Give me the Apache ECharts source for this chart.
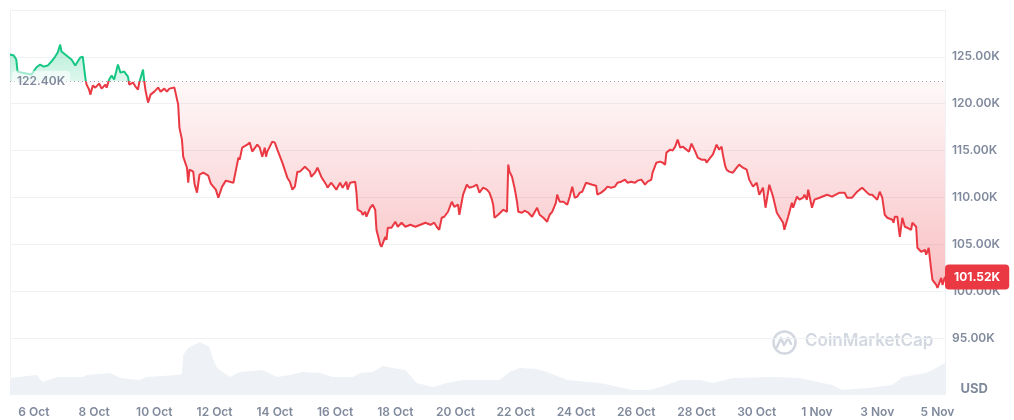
<!DOCTYPE html>
<html><head><meta charset="utf-8">
<script src="https://cdn.jsdelivr.net/npm/echarts@6/dist/echarts.min.js"></script>
<style>html,body{margin:0;padding:0;background:#fff}#c{width:1014px;height:420px}</style>
</head><body><div id="c"></div>
<script>
// Reference price (K USD) at the start of the period
const BASE = 122.4;
// Hours since 5 Oct 00:00 UTC
const hours = [5,8,10,11,14,18,22,26,29,32,35,38,41,43,45,46,49,52,54,57,59,61,63,65,66,68,69,71,73,76,78,81,82,84,86,88,89,91,93,96,99,100,103,105,107,108,111,112,113,115,117,120,123,125,128,130,132,136,137,139,140,142,143,146,147,148,151,152,154,156,159,163,165,167,169,171,174,177,180,183,187,188,190,194,196,198,202,204,206,208,209,210,214,216,218,222,226,228,230,232,234,236,240,244,245,248,250,253,257,258,261,265,268,270,273,274,276,280,281,282,285,286,288,289,292,294,296,297,300,301,304,305,306,309,312,314,317,320,324,328,332,336,340,343,345,347,349,351,354,357,359,362,363,366,369,371,374,377,379,382,385,387,389,390,391,394,395,398,399,401,402,403,405,406,407,409,410,413,415,418,421,422,425,426,427,430,433,435,437,440,441,443,446,449,451,453,455,457,459,461,464,465,469,472,473,476,479,481,484,487,489,492,495,497,500,503,505,508,511,513,516,517,520,523,525,527,528,531,533,535,537,539,541,544,546,548,551,553,556,559,560,563,565,568,570,572,573,575,576,578,581,584,586,589,592,594,597,600,602,605,607,610,613,616,618,621,622,625,628,629,632,634,637,638,640,641,644,646,650,656,660,666,670,672,676,680,682,684,688,690,692,696,698,700,702,704,708,709,710,712,714,716,718,720,723,724,727,728,731,734,735,737,739,740,743,744,747,748,750];
// Price in thousands of USD
const prices = [125.25,125.14,124.71,123.43,123.32,123.22,123.11,123.86,124.18,123.96,124.07,124.5,125.03,125.46,126.31,125.57,125.25,124.93,124.71,124.07,124.5,124.93,125.03,122.79,122.04,121.51,120.97,121.93,121.72,122.15,121.61,122.04,121.72,122.58,123.0,122.58,122.68,124.18,123.32,123.43,122.9,122.04,122.26,121.83,121.51,122.26,123.64,122.36,121.4,120.12,120.97,121.29,121.72,121.29,121.61,121.29,121.61,121.72,121.51,119.9,117.45,116.17,114.35,113.17,111.57,112.96,112.75,111.47,110.51,112.43,112.64,112.32,111.47,111.15,110.83,109.97,111.15,111.79,111.68,111.57,114.25,114.03,115.31,115.63,115.85,114.89,115.63,115.31,114.35,115.31,114.35,114.89,115.95,115.85,115.1,113.71,112.11,111.68,110.83,111.15,112.75,112.75,113.28,112.75,112.21,112.64,113.17,112.21,111.36,111.04,111.57,110.83,111.57,111.04,111.68,110.83,111.57,111.68,110.61,108.69,108.47,108.15,108.47,107.94,108.9,109.22,108.69,106.55,104.95,104.73,105.8,105.48,106.76,106.76,107.41,106.87,107.3,106.87,107.08,106.87,107.08,107.3,107.08,107.3,106.87,106.55,107.83,107.94,108.47,109.54,109.0,109.22,108.15,110.29,111.36,111.04,111.15,111.36,110.51,111.04,110.83,110.51,109.76,109.22,107.83,108.15,107.94,108.69,108.9,108.47,113.5,112.75,112.21,112.11,111.04,109.54,108.47,108.37,108.58,108.37,107.94,107.83,108.9,108.69,108.15,107.83,107.41,108.15,108.47,109.44,110.29,109.54,109.54,109.22,110.08,111.15,109.97,110.08,110.51,110.61,111.57,111.36,111.36,111.25,110.29,110.51,110.83,111.15,111.04,111.15,111.57,111.68,111.9,111.57,111.68,111.57,111.79,111.9,111.36,111.68,111.9,112.64,113.71,113.82,113.71,113.5,114.78,115.1,115.0,115.42,116.17,115.31,115.42,115.1,114.89,115.74,114.89,114.25,114.03,114.03,113.71,114.25,114.57,115.63,115.1,115.42,114.57,113.28,112.96,112.75,112.64,113.17,113.5,113.17,112.96,111.9,111.15,111.57,110.29,111.04,108.9,111.36,110.08,108.37,107.94,107.3,106.55,107.94,109.44,108.9,110.08,109.76,109.97,110.29,109.76,110.83,108.9,109.76,109.97,110.29,110.08,110.51,110.51,109.97,109.97,110.61,110.83,111.04,110.51,110.29,110.29,109.76,110.61,109.97,108.15,107.83,107.62,107.3,107.94,107.94,105.8,107.83,106.87,106.76,106.55,107.3,106.87,104.63,104.2,104.41,103.88,104.63,102.28,101.21,100.67,100.35,101.42,100.67,101.52];
// Volume (relative units)
const volHours = [5,26,31,43,63,66,85,93,108,114,138,142,143,147,156,164,167,170,180,188,206,218,228,238,252,262,278,284,294,302,310,320,329,342,353,366,395,403,411,425,435,449,475,501,515,528,539,555,565,581,613,634,660,668,688,708,716,735,743,750];
const volumes = [34,40,26,36,36,40,44,34,30,36,40,42,80,94,106,96,70,54,36,46,50,36,40,46,44,36,36,44,46,58,54,50,24,16,24,30,30,46,54,52,44,30,24,10,10,20,30,30,24,34,36,34,20,10,14,20,36,44,54,64];
// X axis tick labels (every two days from 6 Oct)
const tickLabels = ['6 Oct','8 Oct','10 Oct','12 Oct','14 Oct','16 Oct','18 Oct','20 Oct','22 Oct','24 Oct','26 Oct','28 Oct','30 Oct','1 Nov','3 Nov','5 Nov'];

const X_MIN = hours[0], X_MAX = hours[hours.length - 1];
const tickHours = tickLabels.map((_, i) => 24 + 48 * i);
const priceData = hours.map((h, i) => [h, prices[i]]);
const volData = volHours.map((h, i) => [h, volumes[i]]);
const last = prices.length - 1;

const GREEN = '#16c784', RED = '#ea3943', AX = '#808a9d', GRID = '#eff2f5';
const FONT = 'Inter, "Noto Sans", sans-serif';

const chart = echarts.init(document.getElementById('c'), null, {renderer: 'canvas'});

const option = {
  animation: false,
  backgroundColor: '#fff',
  grid: [
    {left: 10, right: 69, top: 10, height: 328},
    {left: 10, right: 69, top: 10, bottom: 25}
  ],
  xAxis: [
    {type: 'value', gridIndex: 0, min: X_MIN, max: X_MAX, show: false},
    {type: 'value', gridIndex: 1, min: X_MIN, max: X_MAX,
     axisLine: {show: false}, axisTick: {show: false}, splitLine: {show: false},
     axisLabel: {customValues: tickHours, formatter: v => { const i = tickHours.indexOf(Math.round(v)); return i >= 0 ? tickLabels[i] : ''; },
       color: AX, fontFamily: FONT, fontSize: 12, fontWeight: 600, margin: 11}}
  ],
  yAxis: [
    {type: 'value', gridIndex: 0, position: 'right', min: 95, max: 130, interval: 5,
     axisLine: {show: false}, axisTick: {show: false},
     splitLine: {lineStyle: {color: GRID, width: 1}},
     axisLabel: {formatter: v => v.toFixed(2) + 'K', showMaxLabel: false, margin: 7,
       color: AX, fontFamily: FONT, fontSize: 12, fontWeight: 600}},
    {type: 'value', gridIndex: 1, position: 'right', min: 0, max: 770,
     axisLine: {show: true, lineStyle: {color: GRID}}, axisTick: {show: false},
     axisLabel: {show: false}, splitLine: {show: false}},
    {type: 'value', gridIndex: 1, position: 'left', min: 0, max: 770,
     axisLine: {show: true, lineStyle: {color: GRID}}, axisTick: {show: false},
     axisLabel: {show: false}, splitLine: {show: false}}
  ],
  graphic: [
    {type: 'text', right: 26, bottom: 24, style: {text: 'USD', fill: AX, font: '700 13px ' + FONT}},
    {type: 'group', left: 771, top: 329, children: [
      {type: 'circle', shape: {cx: 12.5, cy: 12.5, r: 11}, style: {fill: 'none', stroke: '#d3d8e0', lineWidth: 2.5}},
      {type: 'polyline', shape: {points: [[5, 17], [9, 8], [12, 15], [16, 8], [19, 14]]}, style: {fill: 'none', stroke: '#d3d8e0', lineWidth: 2.5, lineJoin: 'round', lineCap: 'round'}}
    ]},
    {type: 'text', left: 805, top: 332, style: {text: 'CoinMarketCap', fill: '#d3d8e0', font: '600 17px ' + FONT}}
  ],
  series: [
    {id: 'vol', type: 'line', xAxisIndex: 1, yAxisIndex: 1, data: volData, symbol: 'none', silent: true,
     lineStyle: {width: 0}, areaStyle: {color: '#eef1f5', opacity: 1}, z: 1},
    {id: 'price', type: 'line', xAxisIndex: 0, yAxisIndex: 0, data: priceData, symbol: 'none', z: 3,
     lineStyle: {width: 2, color: RED}, itemStyle: {color: RED},
     areaStyle: {origin: BASE, color: 'rgba(234,57,67,0.1)', opacity: 1},
     markLine: {silent: true, symbol: 'none', label: {show: false},
       lineStyle: {type: [1, 3], color: '#97a0b1', width: 1},
       data: [{yAxis: BASE}]},
     markPoint: {silent: true, symbol: 'rect', symbolSize: 0,
       data: [
         {coord: [X_MIN, BASE], label: {show: true, position: 'right', distance: 2,
           formatter: BASE.toFixed(2) + 'K', color: AX, fontFamily: FONT, fontSize: 12, fontWeight: 600,
           backgroundColor: 'rgba(255,255,255,0.6)', padding: [5, 5, 4, 5], borderRadius: 4}},
         {coord: [hours[last], prices[last]], label: {show: true, position: 'right', distance: 0,
           formatter: prices[last].toFixed(2) + 'K', color: '#fff', fontFamily: FONT, fontSize: 12, fontWeight: 700,
           backgroundColor: RED, padding: [7, 9, 6, 9], borderRadius: 4}}
       ]}}
  ]
};
chart.setOption(option);

const yTop = chart.convertToPixel({yAxisIndex: 0}, Math.max(...prices));
const yBase = chart.convertToPixel({yAxisIndex: 0}, BASE);
const yBot = chart.convertToPixel({yAxisIndex: 0}, Math.min(...prices));
const b = (yBase - yTop) / (yBot - yTop);
const lineGrad = {type: 'linear', x: 0, y: yTop, x2: 0, y2: yBot, global: true,
  colorStops: [{offset: 0, color: GREEN}, {offset: b, color: GREEN}, {offset: b, color: RED}, {offset: 1, color: RED}]};
const areaGrad = {type: 'linear', x: 0, y: yTop, x2: 0, y2: yBot, global: true,
  colorStops: [{offset: 0, color: 'rgba(22,199,132,0.32)'}, {offset: b, color: 'rgba(22,199,132,0.14)'},
               {offset: b, color: 'rgba(234,57,67,0.03)'}, {offset: 1, color: 'rgba(234,57,67,0.32)'}]};
chart.setOption({series: [{id: 'price', lineStyle: {color: lineGrad}, areaStyle: {color: areaGrad}}]});
</script></body></html>
